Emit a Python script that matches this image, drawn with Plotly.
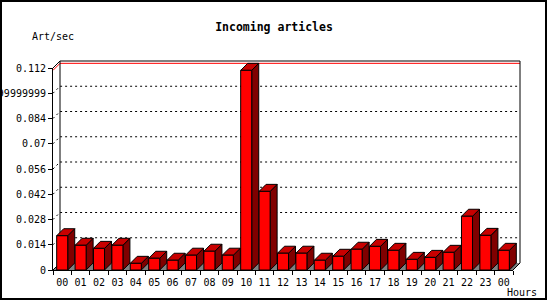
import plotly.graph_objects as go

# ---------------- data ----------------
HOURS = ["00", "01", "02", "03", "04", "05", "06", "07", "08", "09", "10", "11",
         "12", "13", "14", "15", "16", "17", "18", "19", "20", "21", "22", "23", "00"]
ARTS_PER_SEC = [0.0190, 0.0137, 0.0120, 0.0137, 0.0037, 0.0065, 0.0054, 0.0082,
                0.0104, 0.0082, 0.1107, 0.0436, 0.0093, 0.0093, 0.0054, 0.0076,
                0.0115, 0.0131, 0.0109, 0.0059, 0.0070, 0.0098, 0.0298, 0.0192, 0.0109]
Y_TICKS = [0, 0.014, 0.028, 0.042, 0.056, 0.07, 0.084, 0.098, 0.112]
Y_TICK_LABELS = ["0", "0.014", "0.028", "0.042", "0.056", "0.07", "0.084",
                 "0.09799999999999999", "0.112"]
TITLE = "Incoming articles"
Y_TITLE = "Art/sec"
X_TITLE = "Hours"

# ---------------- layout constants (pixels) ----------------
W, H = 550, 300
FRONT_L, FRONT_R, FRONT_T, FRONT_B = 53, 513, 68, 270
DEPTH = 7
BAR_HALF = 0.3
FONT = "DejaVu Sans Mono"

n = len(HOURS)
x_lo, x_hi = -0.5, n - 0.5
y_lo, y_hi = Y_TICKS[0], Y_TICKS[-1]
ppx = (FRONT_R - FRONT_L) / (x_hi - x_lo)
ppy = (FRONT_B - FRONT_T) / (y_hi - y_lo)
dx = DEPTH / ppx
dy = DEPTH / ppy

fig = go.Figure()


def poly_trace(polys, fill, line_color="black", width=1, dash=None, closed=True):
    xs, ys = [], []
    for p in polys:
        for (a, b) in p:
            xs.append(a)
            ys.append(b)
        if closed:
            xs.append(p[0][0])
            ys.append(p[0][1])
        xs.append(None)
        ys.append(None)
    kw = dict(x=xs, y=ys, mode="lines", hoverinfo="skip", showlegend=False,
              line=dict(color=line_color, width=width, dash=dash),
              xaxis="x", yaxis="y")
    if fill:
        kw.update(fill="toself", fillcolor=fill)
    return go.Scatter(**kw)


# floor
floor = [[(x_lo, y_lo), (x_hi, y_lo), (x_hi + dx, y_lo + dy), (x_lo + dx, y_lo + dy)]]
fig.add_trace(poly_trace(floor, "#808080", line_color="rgba(0,0,0,0)", width=0))

# dotted grid lines (left wall + back wall)
grid = []
for v in Y_TICKS[1:-1]:
    grid.append([(x_lo, v), (x_lo + dx, v + dy), (x_hi + dx, v + dy)])
fig.add_trace(poly_trace(grid, None, width=1, dash="2px,3px", closed=False))

# red maximum line
m = max(ARTS_PER_SEC)
fig.add_trace(poly_trace([[(x_lo, m), (x_lo + dx, m + dy), (x_hi + dx, m + dy)]],
                         None, line_color="#ff0000", width=1, closed=False))

# wall frame
frame = [
    [(x_lo, y_hi), (x_lo + dx, y_hi + dy), (x_hi + dx, y_hi + dy), (x_hi + dx, y_lo + dy), (x_hi, y_lo)],
    [(x_lo + dx, y_lo + dy), (x_lo + dx, y_hi + dy)],
    [(x_lo, y_lo), (x_lo + dx, y_lo + dy)],
]
fig.add_trace(poly_trace(frame, None, width=1, closed=False))

# bars
fronts, tops, sides = [], [], []
for i, v in enumerate(ARTS_PER_SEC):
    l, r = i - BAR_HALF, i + BAR_HALF
    fronts.append([(l, 0), (r, 0), (r, v), (l, v)])
    tops.append([(l, v), (r, v), (r + dx, v + dy), (l + dx, v + dy)])
    sides.append([(r, 0), (r + dx, dy), (r + dx, v + dy), (r, v)])
fig.add_trace(poly_trace(sides, "#800000"))
fig.add_trace(poly_trace(tops, "#c80000"))
fig.add_trace(poly_trace(fronts, "#ff0000"))

# front axes subplot (drawn on top)
fig.add_trace(go.Scatter(x=[None], y=[None], xaxis="x2", yaxis="y2",
                         showlegend=False, hoverinfo="skip"))

tickfont = dict(family=FONT, size=10, color="black")
fig.update_layout(
    width=W, height=H, autosize=False,
    margin=dict(l=0, r=0, t=0, b=0, autoexpand=False),
    paper_bgcolor="white", plot_bgcolor="rgba(0,0,0,0)",
    showlegend=False,
    xaxis=dict(domain=[0, 1], range=[x_lo - FRONT_L / ppx, x_lo + (W - FRONT_L) / ppx],
               visible=False, fixedrange=True, automargin=False),
    yaxis=dict(domain=[0, 1], range=[y_lo - (H - FRONT_B) / ppy, y_lo + FRONT_B / ppy],
               visible=False, fixedrange=True, automargin=False),
    xaxis2=dict(domain=[FRONT_L / W, FRONT_R / W], range=[x_lo, x_hi], anchor="y2",
                showline=True, linecolor="black", linewidth=1, showgrid=False, zeroline=False,
                tickmode="array", tickvals=list(range(n)), ticktext=HOURS,
                ticks="", tickfont=tickfont, ticklabelstandoff=3, automargin=False,
                minor=dict(tickmode="linear", tick0=-0.5, dtick=1, ticks="outside",
                           ticklen=4, tickcolor="black", tickwidth=1, showgrid=False),
                fixedrange=True),
    yaxis2=dict(domain=[1 - FRONT_B / H, 1 - FRONT_T / H], range=[y_lo, y_hi], anchor="x2",
                showline=True, linecolor="black", linewidth=1, showgrid=False, zeroline=False,
                tickmode="array", tickvals=Y_TICKS, ticktext=Y_TICK_LABELS,
                ticks="outside", ticklen=4, tickcolor="black", tickfont=tickfont,
                automargin=False, fixedrange=True),
    title=dict(text=TITLE, x=274 / W, y=1 - 27 / H, xanchor="center", yanchor="middle",
               automargin=False,
               font=dict(family=FONT, size=11.5, color="black", weight="bold")),
    annotations=[
        dict(text=Y_TITLE, xref="paper", yref="paper", x=30 / W, y=1 - 37 / H,
             xanchor="left", yanchor="middle", showarrow=False, font=tickfont),
        dict(text=X_TITLE, xref="paper", yref="paper", x=505 / W, y=1 - 292 / H,
             xanchor="left", yanchor="middle", showarrow=False, font=tickfont),
    ],
    shapes=[dict(type="rect", xref="paper", yref="paper", x0=1 / W, x1=546 / W,
                 y0=1 / H, y1=1 - 1 / H, line=dict(color="black", width=2),
                 fillcolor="rgba(0,0,0,0)")],
)

fig.write_html("out.html")
